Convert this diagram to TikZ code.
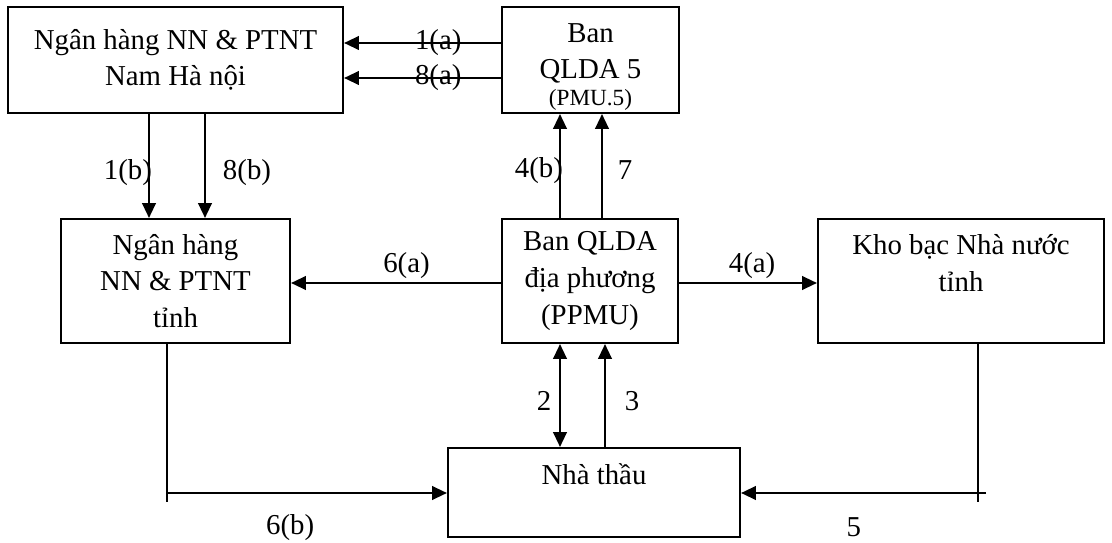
\documentclass[tikz,border=0pt]{standalone}
\usepackage{fontspec}
\setmainfont{Liberation Serif}
\usetikzlibrary{arrows.meta}

\tikzset{
  box/.style={draw, line width=1.4pt, inner sep=0pt, align=center},
  flow/.style={->, line width=1.7pt},
  thinline/.style={line width=0.8pt},
  lbl/.style={inner sep=2pt}
}

\begin{document}
\begin{tikzpicture}[x=0.025cm, y=-0.025cm, >={Triangle[length=10.5pt, width=9.5pt]},
    font=\fontsize{20.5}{26}\selectfont]
    \useasboundingbox (0,0) rectangle (1112,543);
    \node[box, minimum width=8.375cm, minimum height=2.65cm] (hanoi) at (175.5,60) {Ngân hàng NN \& PTNT\\Nam Hà nội};
    \node[box, minimum width=4.425cm, minimum height=2.65cm] (pmu) at (590.5,60) {\rule{0pt}{23pt}Ban\\QLDA 5\\[-7pt]{\fontsize{16.5}{18}\selectfont (PMU.5)}};
    \node[box, minimum width=5.725cm, minimum height=3.1cm] (tinh) at (175.5,281) {Ngân hàng\\NN \& PTNT\\tỉnh};
    \node[box, minimum width=4.4cm, minimum height=3.1cm] (ppmu) at (590,281) {Ban QLDA\\địa phương\\(PPMU)};
    \node[box, minimum width=7.15cm, minimum height=3.1cm] (khobac) at (961,281) {Kho bạc Nhà nước\\tỉnh\\\mbox{}};
    \node[box, minimum width=7.3cm, minimum height=2.225cm] (nhathau) at (594,492.5) {Nhà thầu\\\mbox{}};
    \coordinate (tinhend) at (167,502);
    \coordinate (tinhturn) at (167,493);
    \coordinate (khobacend) at (978,502);
    \coordinate (khobacturn) at (986,493);

    \draw[flow] (pmu.west |- 0,43) -- node[lbl, pos=0.4]{1(a)} (hanoi.east |- 0,43);
    \draw[flow] (pmu.west |- 0,78) -- node[lbl, pos=0.4]{8(a)} (hanoi.east |- 0,78);
    \draw[flow] (hanoi.south -| 149,0) -- node[lbl, pos=0.56, xshift=-0.525cm]{1(b)} (tinh.north -| 149,0);
    \draw[flow] (hanoi.south -| 205,0) -- node[lbl, pos=0.56, xshift=1.05cm]{8(b)} (tinh.north -| 205,0);
    \draw[flow] (ppmu.north -| 560,0) -- node[lbl, pos=0.46, xshift=-0.525cm]{4(b)} (pmu.south -| 560,0);
    \draw[flow] (ppmu.north -| 602,0) -- node[lbl, pos=0.46, xshift=0.575cm]{7} (pmu.south -| 602,0);
    \draw[flow] (ppmu.west |- 0,283) -- node[lbl, above, pos=0.45]{6(a)} (tinh.east |- 0,283);
    \draw[flow] (ppmu.east |- 0,283) -- node[lbl, above, pos=0.53]{4(a)} (khobac.west |- 0,283);
    \draw[flow, <->] (ppmu.south -| 560,0) -- node[lbl, pos=0.55, xshift=-0.4cm]{2} (nhathau.north -| 560,0);
    \draw[flow] (nhathau.north -| 605,0) -- node[lbl, pos=0.45, xshift=0.675cm]{3} (ppmu.south -| 605,0);
    \draw[thinline] (tinh.south -| tinhend) -- (tinhend);
    \draw[flow] (tinhturn) -- node[lbl, pos=0.44, yshift=-0.875cm]{6(b)} (nhathau.west |- tinhturn);
    \draw[thinline] (khobac.south -| khobacend) -- (khobacend);
    \draw[flow] (khobacturn) -- node[lbl, pos=0.54, yshift=-0.85cm]{5} (nhathau.east |- khobacturn);
\end{tikzpicture}
\end{document}
